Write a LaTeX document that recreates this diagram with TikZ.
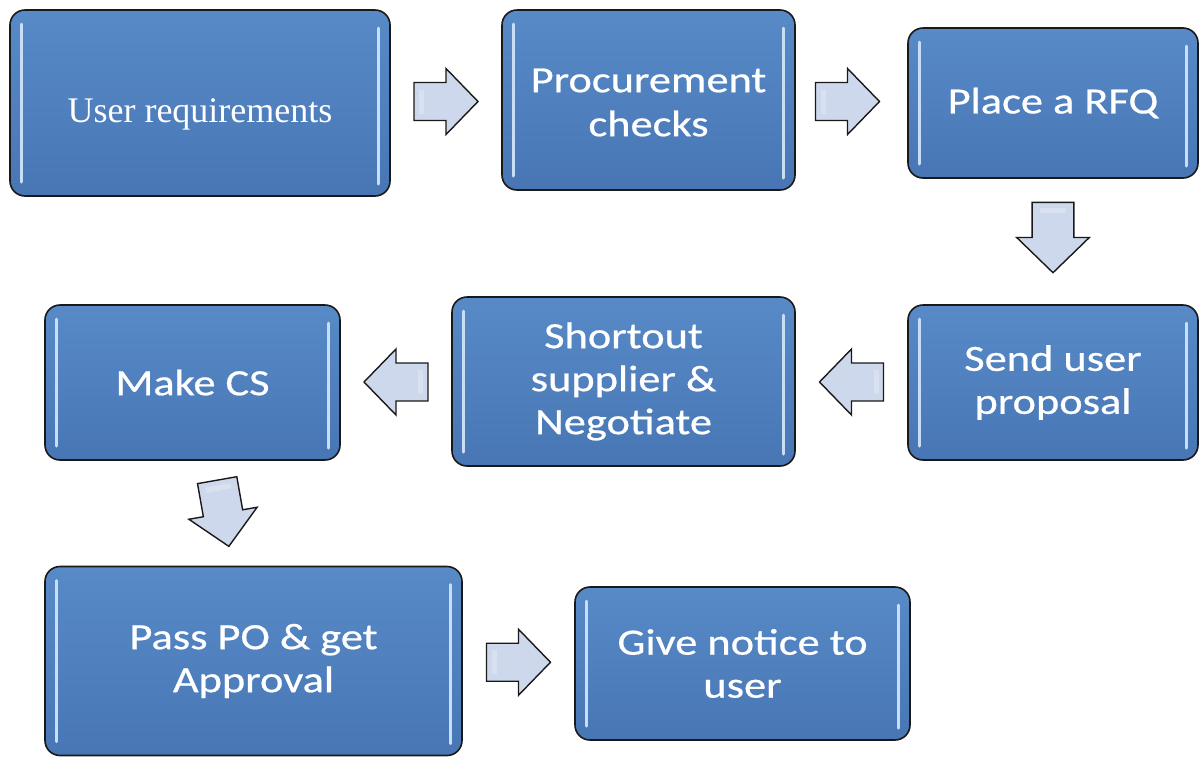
\documentclass[tikz,border=0pt]{standalone}
\usepackage{fontspec}
\setmainfont[FakeStretch=1.2,FakeBold=0.6]{Carlito}
\newfontfamily\timesfont{Liberation Serif}
\usetikzlibrary{calc}
\definecolor{boxtop}{RGB}{88,138,200}
\definecolor{boxbot}{RGB}{72,118,180}
\definecolor{hilite}{RGB}{200,222,246}
\definecolor{arrowfill}{RGB}{205,216,236}
\definecolor{edge}{RGB}{25,25,25}
\tikzset{
  procbox/.style={draw=edge, line width=1.6pt, rounded corners=15pt,
    top color=boxtop, bottom color=boxbot, text=white, align=center,
    font=\fontsize{37}{43}\selectfont, inner sep=0pt,
    path picture={
      \draw[hilite, line width=3pt, line cap=round]
        ([xshift=11pt,yshift=-14pt]path picture bounding box.north west) --
        ([xshift=11pt,yshift=14pt]path picture bounding box.south west);
      \draw[hilite, line width=3pt, line cap=round]
        ([xshift=-12pt,yshift=-18pt]path picture bounding box.north east) --
        ([xshift=-12pt,yshift=12pt]path picture bounding box.south east);
    }},
  blockarrow/.pic={
    \filldraw[draw=edge, line width=1.4pt, fill=arrowfill, line join=miter]
      (-32,-19) -- (0,-19) -- (0,-33) -- (32,0) -- (0,33) -- (0,19) -- (-32,19) -- cycle;
    \fill[white, opacity=0.25] (-27,-12) rectangle (-22,12);
  }
}
\begin{document}
\begin{tikzpicture}[x=1pt,y=-1pt]
\useasboundingbox (0,0) rectangle (1200,756);
\node[procbox, minimum width=380pt, minimum height=186pt, font=\timesfont\fontsize{36}{42}\selectfont] (ur) at (200,103) {\raisebox{-11pt}[\height][\depth]{User requirements}};
\node[procbox, minimum width=293pt, minimum height=180pt] (pc) at (648.5,100) {\raisebox{-2pt}[\height][\depth]{Procurement}\\\raisebox{-3pt}[\height][\depth]{checks}};
\node[procbox, minimum width=290pt, minimum height=150pt] (rfq) at (1053,103) {Place a RFQ};
\node[procbox, minimum width=290pt, minimum height=155pt] (sup) at (1053,382.5) {Send user\\proposal};
\node[procbox, minimum width=343pt, minimum height=169pt] (ss) at (623.5,381.5) {Shortout\\supplier \&\\Negotiate};
\node[procbox, minimum width=295pt, minimum height=155pt] (mcs) at (192.5,382.5) {Make CS};
\node[procbox, minimum width=417pt, minimum height=189pt] (ppo) at (253.5,661) {Pass PO \& get\\Approval};
\node[procbox, minimum width=335pt, minimum height=153pt] (gn) at (742.5,663.5) {Give notice to\\user};
\pic (a1) at ($(ur.east)!0.5!(pc.west)$) {blockarrow};
\pic (a2) at ($(pc.east)!0.5!(rfq.west)+(-4,0)$) {blockarrow};
\pic[rotate=-90, scale=1.1] (a3) at ($(rfq.south)!0.5!(sup.north)+(0,-4)$) {blockarrow};
\pic[rotate=180] (a4) at ($(ss.east)!0.5!(sup.west)$) {blockarrow};
\pic[rotate=180] (a5) at ($(mcs.east)!0.5!(ss.west)$) {blockarrow};
\pic[rotate=-80, scale=1.05] (a6) at ($(mcs.south)!0.5!(ppo.north)$) {blockarrow};
\pic (a7) at ($(ppo.east)!0.5!(gn.west)$) {blockarrow};
\end{tikzpicture}
\end{document}
